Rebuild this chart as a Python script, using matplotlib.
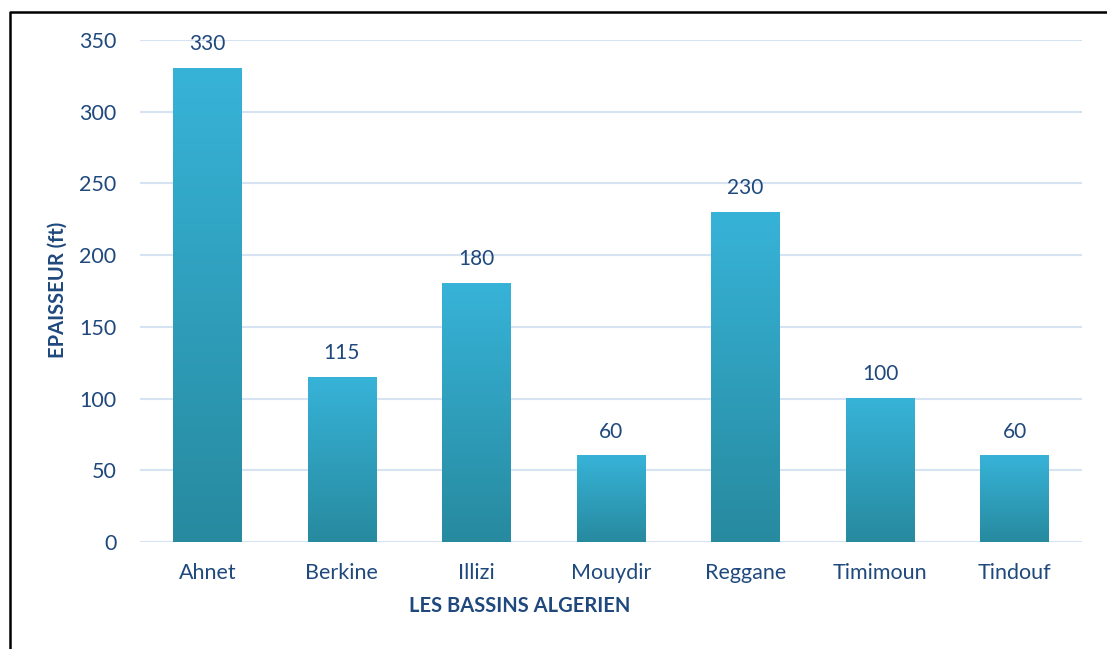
import numpy as np
import matplotlib.pyplot as plt
from matplotlib.colors import LinearSegmentedColormap
from matplotlib.lines import Line2D

bassins = ['Ahnet', 'Berkine', 'Illizi', 'Mouydir', 'Reggane', 'Timimoun', 'Tindouf']
epaisseur = [330, 115, 180, 60, 230, 100, 60]
yticks = [0, 50, 100, 150, 200, 250, 300, 350]

txt = '#1F497D'
grid_col = '#D6E3F3'
cmap = LinearSegmentedColormap.from_list('bar', ['#278A9F', '#37B3D8'])

plt.rcParams['font.family'] = ['Lato', 'DejaVu Sans']

fig = plt.figure(figsize=(11.07, 6.49), dpi=100)
ax = fig.add_axes([0.1265, 0.1649, 0.851, 0.7735])

w = 0.51
grad = np.linspace(0, 1, 256).reshape(-1, 1)
x = np.arange(len(bassins))
for xi, v in zip(x, epaisseur):
    ax.imshow(grad, extent=(xi - w / 2, xi + w / 2, 0, v), origin='lower',
              cmap=cmap, aspect='auto', zorder=3)
    ax.text(xi, v + 10, str(v), ha='center', va='bottom', fontsize=15, color=txt)

ax.set_xlim(-0.5, len(bassins) - 0.5)
ax.set_ylim(0, 350)
ax.set_yticks(yticks)
ax.set_xticks(x)
ax.set_xticklabels(bassins)
ax.tick_params(length=0, labelsize=15.5, labelcolor=txt)
ax.tick_params(axis='y', pad=17)
ax.tick_params(axis='x', pad=15)
ax.grid(axis='y', color=grid_col, linewidth=1.5, zorder=0)
ax.set_axisbelow(True)
for s in ax.spines.values():
    s.set_visible(False)

ax.set_xlabel('LES BASSINS ALGERIEN', fontsize=14.5, fontweight='bold', color=txt)
ax.xaxis.set_label_coords(0.403, -0.108)
ax.set_ylabel('EPAISSEUR (ft)', fontsize=14.5, fontweight='bold', color=txt)
ax.yaxis.set_label_coords(-0.0764, 0.502)

# cadre (haut et gauche)
fig.add_artist(Line2D([9.5 / 1107, 9.5 / 1107, 1], [0, 1 - 11.5 / 649, 1 - 11.5 / 649],
                      transform=fig.transFigure, color='black', linewidth=1.8))

fig.savefig('out.png', dpi=100)
